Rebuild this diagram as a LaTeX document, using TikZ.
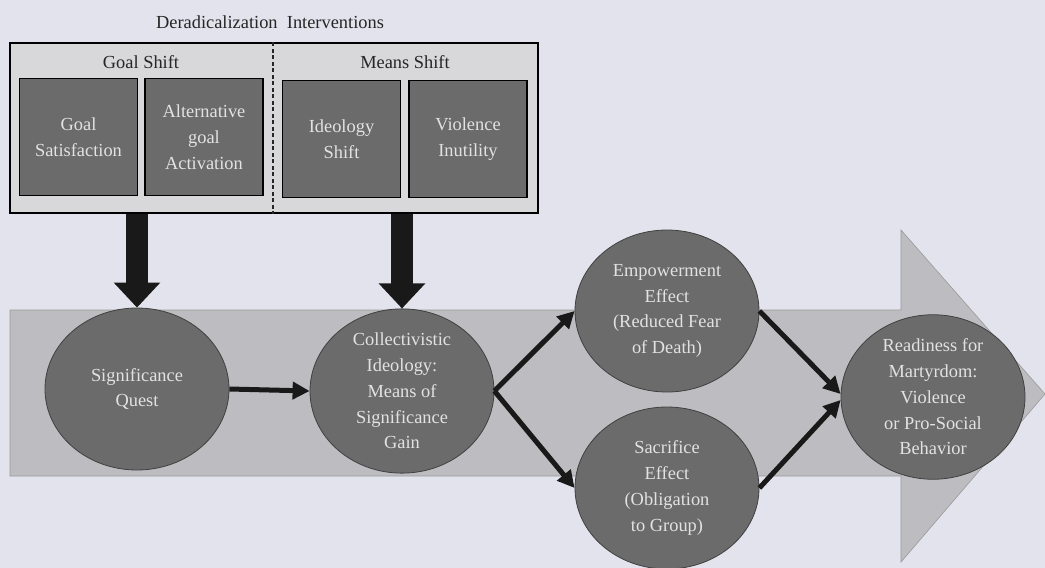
\documentclass[tikz,border=0pt]{standalone}
\usepackage{fontspec}
\setmainfont{Liberation Serif}
\usetikzlibrary{positioning,shapes,arrows.meta}

\definecolor{paper}{HTML}{E3E3EE}
\definecolor{panel}{HTML}{D8D8DB}
\definecolor{band}{HTML}{BDBDC1}
\definecolor{blob}{HTML}{6B6B6B}
\definecolor{chalk}{HTML}{E2E2E2}

\begin{document}
\begin{tikzpicture}[x=1pt, y=-1pt,
          every node/.style = {align=center, font=\rmfamily\fontsize{18.4}{25.8}\selectfont},
          bubble/.style = {shape=ellipse, draw=black!75, line width=0.8pt,
            fill=blob, text=chalk, inner sep=0pt,
            minimum width=184pt, minimum height=162pt},
          tactic/.style = {shape=rectangle, draw=black, line width=1.5pt,
            fill=blob, text=chalk, minimum width=118pt, minimum height=117pt},
          push/.style = {line width=22pt, draw=black!90,
            -{Triangle[width=45pt,length=25pt]}},
          flow/.style = {line width=5pt, draw=black!90,
            -{Triangle[width=17pt,length=17pt]}}]
          \useasboundingbox[fill=paper] (0,0) rectangle (1045,568);
          % big background arrow
          \fill[band, draw=black!40, line width=0.6pt]
            (10,310) -- (901,310) -- (901,230) -- (1045,394)
            -- (901,562) -- (901,476) -- (10,476) -- cycle;
          % interventions panel
          \node[text=black!85] (title) at (270,22) {Deradicalization\ \ Interventions};
          \node[shape=rectangle, draw=black, line width=1.5pt, fill=panel,
            minimum width=528pt, minimum height=170pt] (panel) at (274,128) {};
          \draw[black!85, line width=1.6pt, dash pattern=on 4pt off 2.5pt]
            (panel.north -| 273,0) -- (panel.south -| 273,0);
          \node[text=black!85] (goal) at (141,62) {Goal Shift};
          \node[text=black!85] (means) at (405,62) {Means Shift};
          \node[tactic] (gsat) at (78.5,137) {Goal\\Satisfaction};
          \node[tactic, right=6pt of gsat] (alt) {Alternative\\goal\\Activation};
          \node[tactic] (ideo) at (341.5,139) {Ideology\\Shift};
          \node[tactic, right=7pt of ideo] (viol) {Violence\\Inutility};
          % process
          \node[bubble] (quest) at (137,389) {Significance\\Quest};
          \node[bubble] (ideology) at (402,391) {Collectivistic\\Ideology:\\Means of\\Significance\\Gain};
          \node[bubble] (power) at (667,311) {Empowerment\\Effect\\(Reduced Fear\\of Death)};
          \node[bubble] (sacrifice) at (667,488) {Sacrifice\\Effect\\(Obligation\\to Group)};
          \node[bubble] (martyr) at (933,397) {Readiness for\\Martyrdom:\\Violence\\or Pro-Social\\Behavior};
          % connectors
          \draw[push] (panel.south -| quest.north) -- (quest.north);
          \draw[push] (panel.south -| ideology.north) -- (ideology.north);
          \draw[flow] (quest.east) -- (ideology.west);
          \draw[flow] (ideology.east) -- (power.west);
          \draw[flow] (ideology.east) -- (sacrifice.west);
          \draw[flow] (power.east) -- ([yshift=3pt]martyr.west);
          \draw[flow] (sacrifice.east) -- ([yshift=-3pt]martyr.west);
        \end{tikzpicture}
\end{document}
